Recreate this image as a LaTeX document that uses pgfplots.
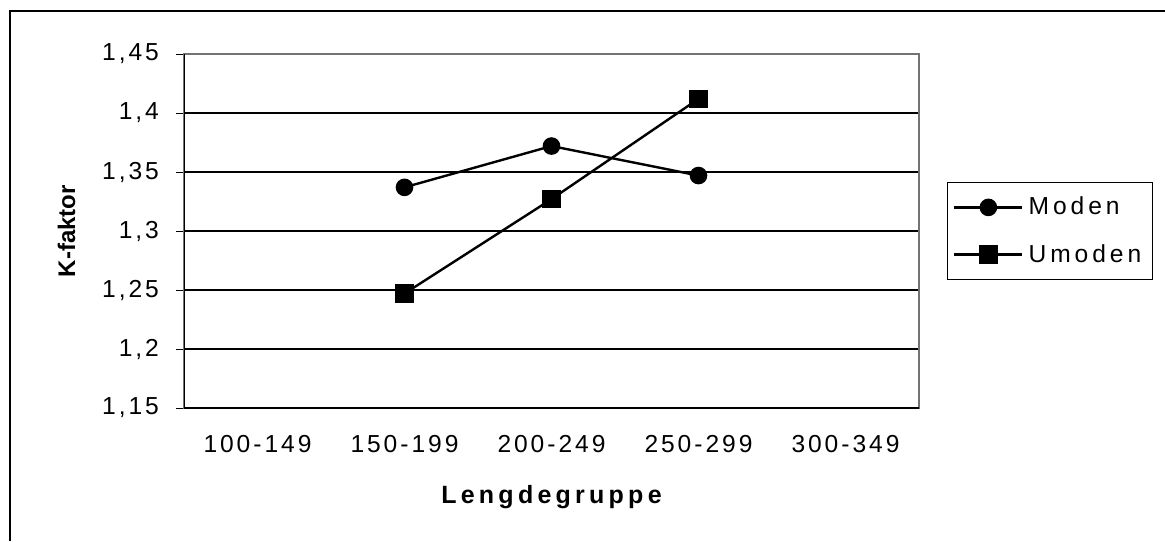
\documentclass[border=0pt]{standalone}
\usepackage{fontspec}
\setmainfont{Liberation Sans}
\newfontfamily\spaced[LetterSpace=12]{Liberation Sans}
\newfontfamily\legspaced[LetterSpace=16]{Liberation Sans}
\newfontfamily\boldspaced[LetterSpace=17]{Liberation Sans}
\usepackage{pgfplots}
\pgfplotsset{compat=1.18}
\begin{document}
\begin{tikzpicture}[x=1pt,y=1pt]
\path[use as bounding box] (0,0) rectangle (582.5,270.5);
\draw[line width=1.1pt] (4.85,0) -- (4.85,265.1) -- (582.5,265.1);
\begin{axis}[
  at={(92pt,66.5pt)}, anchor=south west,
  scale only axis, width=367.5pt, height=177pt,
  xmin=-0.5, xmax=4.5, ymin=1.15, ymax=1.45,
  axis line style={draw=black!55, line width=0.6pt},
  xtick pos=bottom, ytick pos=left,
  xtick={0,1,2,3,4},
  xticklabels={100-149,150-199,200-249,250-299,300-349},
  x tick style={draw=none},
  extra x ticks={-0.5,0.5,1.5,2.5,3.5,4.5},
  extra x tick labels={},
  extra x tick style={tick style={draw=black, line width=0.5pt}, grid=none},
  ytick={1.15,1.2,1.25,1.3,1.35,1.4,1.45},
  y tick style={draw=black, line width=0.5pt},
  tick align=outside, major tick length=4pt,
  ymajorgrids, grid style={black, line width=0.55pt},
  /pgf/number format/assume math mode=true,
  /pgf/number format/use comma,
  yticklabel style={font=\fontsize{12.3}{14}\spaced, xshift=-5pt},
  xticklabel style={font=\fontsize{12.3}{14}\spaced, yshift=-6pt},
  xlabel={Lengdegruppe},
  ylabel={K-faktor},
  x label style={font=\fontsize{12.5}{14}\boldspaced\bfseries, at={(axis description cs:0.5,-0.2684)}, anchor=base},
  y label style={font=\fontsize{12}{14}\selectfont\bfseries, at={(axis description cs:-0.1483,0.5)}, anchor=base},
  legend style={at={(1,0.5)}, anchor=west, xshift=13.85pt, draw=black, line width=0.5pt,
    font=\fontsize{12.3}{14}\legspaced, inner xsep=3pt, inner ysep=3.7pt, row sep=6.6pt,
    nodes={inner xsep=2.5pt, inner ysep=3.3pt},
    legend cell align=left},
  legend image code/.code={\draw[mark repeat=2,mark phase=2,#1] plot coordinates {(0pt,0pt) (17pt,0pt) (34pt,0pt)};},
]
\addplot[black, line width=1.2pt, mark=*, mark size=3.8pt, mark options={solid, fill=black}]
  coordinates {(1,1.337) (2,1.372) (3,1.347)};
\addlegendentry{Moden}
\addplot[black, line width=1.2pt, mark=square*, mark size=4pt, mark options={solid, fill=black}]
  coordinates {(1,1.247) (2,1.327) (3,1.412)};
\addlegendentry{Umoden}
\draw[black, line width=0.6pt] (rel axis cs:0,1) -- (rel axis cs:0,0) -- (rel axis cs:1,0);
\end{axis}
\end{tikzpicture}
\end{document}
